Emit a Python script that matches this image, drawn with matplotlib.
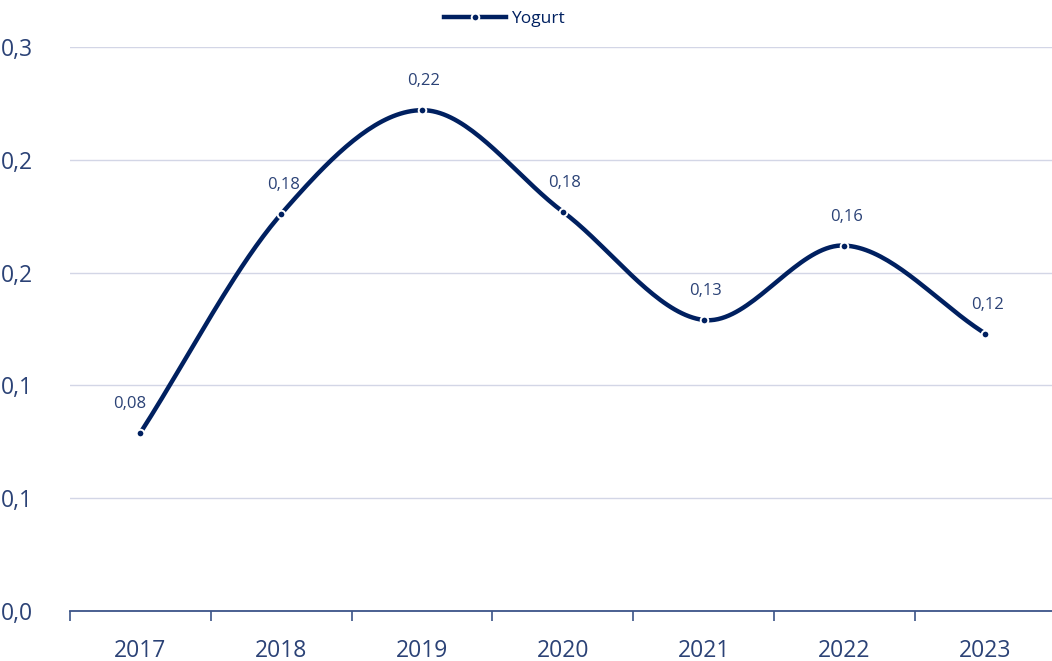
import numpy as np
import matplotlib.pyplot as plt
from matplotlib.ticker import FixedLocator, FuncFormatter

years = ["2017", "2018", "2019", "2020", "2021", "2022", "2023"]
yogurt = [0.079, 0.176, 0.222, 0.177, 0.129, 0.162, 0.123]
yticks = [0.0, 0.05, 0.10, 0.15, 0.20, 0.25]
ylabels = ["0,0", "0,1", "0,1", "0,2", "0,2", "0,3"]

LINE = "#002060"
TEXT = "#2B4276"
AXIS = "#3B5488"
GRID = "#D3D6E6"

plt.rcParams['font.family'] = ['Open Sans', 'DejaVu Sans']


def smooth(xs, ys, n=40):
    # catmull-rom through the points, like a spreadsheet "smoothed line"
    xs = np.asarray(xs, float)
    ys = np.asarray(ys, float)
    px = np.concatenate([[2 * xs[0] - xs[1]], xs, [2 * xs[-1] - xs[-2]]])
    py = np.concatenate([[2 * ys[0] - ys[1]], ys, [2 * ys[-1] - ys[-2]]])
    outx, outy = [], []
    for i in range(1, len(px) - 2):
        t = np.linspace(0, 1, n)
        for p, out in ((px, outx), (py, outy)):
            p0, p1, p2, p3 = p[i - 1], p[i], p[i + 1], p[i + 2]
            m1 = (p2 - p0) / 2
            m2 = (p3 - p1) / 2
            h00 = 2 * t**3 - 3 * t**2 + 1
            h10 = t**3 - 2 * t**2 + t
            h01 = -2 * t**3 + 3 * t**2
            h11 = t**3 - t**2
            out.extend(h00 * p1 + h10 * m1 + h01 * p2 + h11 * m2)
    return np.array(outx), np.array(outy)


W, H = 1052, 661
fig = plt.figure(figsize=(W / 100, H / 100), dpi=100)
ax = fig.add_axes([70 / W, (H - 611) / H, 982 / W, (611 - 47) / H])

x = np.arange(len(years))
sx, sy = smooth(x, yogurt)
ax.plot(sx, sy, color=LINE, lw=3.2, solid_capstyle='round', zorder=3)
ax.plot(x, yogurt, ls='none', marker='o', ms=5.5, mfc=LINE, mec='white',
        mew=1.4, zorder=4)

# legend handle: line - dot - line
ax.plot([], [], color=LINE, lw=3.2, marker='o', ms=5.5, mfc=LINE,
        mec='white', mew=1.4, label='Yogurt')
leg = fig.legend(loc='center', bbox_to_anchor=(504 / W, 1 - 19 / H),
                 frameon=False, fontsize=12.5, handlelength=3.6,
                 handletextpad=0.25, labelcolor=LINE)

for i, v in enumerate(yogurt):
    lab = f"{v:.2f}".replace('.', ',')
    dx = -11 if i == 0 else 2
    ax.annotate(lab, (x[i], v), xytext=(dx, 29), textcoords='offset pixels',
                ha='center', va='center', fontsize=12, color=TEXT)

ax.set_xlim(-0.5, -0.5 + 982 / 140.8)
ax.set_ylim(0, 0.25)
ax.set_yticks(yticks)
ax.set_yticklabels(ylabels)
ax.grid(axis='y', color=GRID, lw=1.0)
ax.set_axisbelow(True)

ax.xaxis.set_major_locator(FixedLocator(np.arange(-0.5, 7, 1)))
ax.xaxis.set_minor_locator(FixedLocator(x))
ax.xaxis.set_major_formatter(FuncFormatter(lambda v, p: ""))
ax.set_xticklabels(years, minor=True)
ax.tick_params(axis='x', which='major', length=7, color=AXIS, width=1.2,
               direction='out')
ax.tick_params(axis='x', which='minor', length=0, pad=20, labelsize=16.5,
               labelcolor=TEXT)
ax.tick_params(axis='y', length=0, pad=27, labelsize=16.5, labelcolor=TEXT)

for s in ('top', 'right', 'left'):
    ax.spines[s].set_visible(False)
ax.spines['bottom'].set_color(AXIS)
ax.spines['bottom'].set_linewidth(1.3)

fig.savefig('out.png', dpi=100)
